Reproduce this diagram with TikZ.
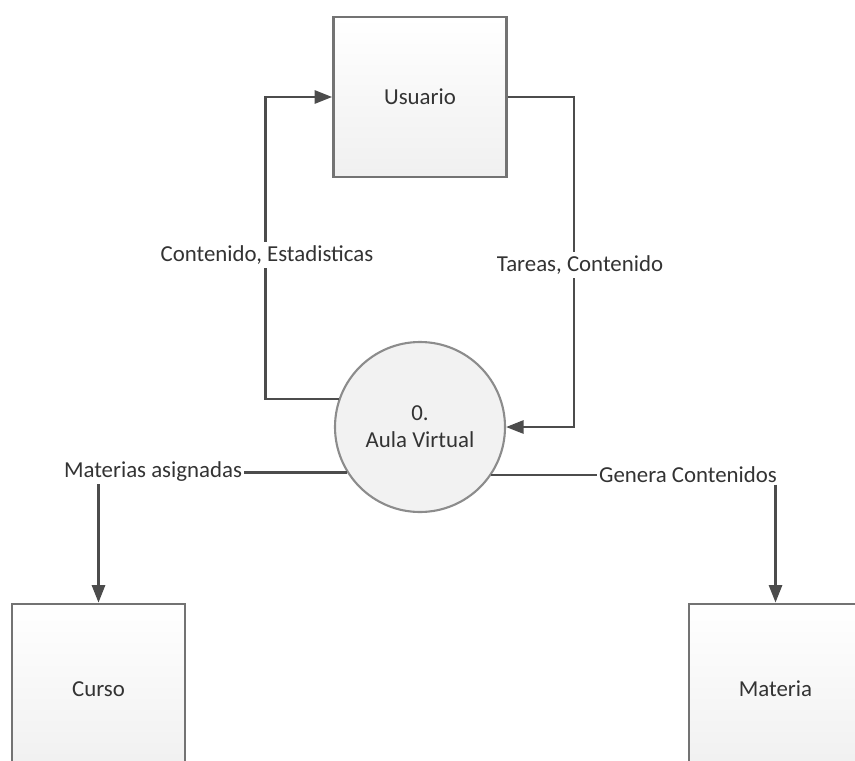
\documentclass[tikz,border=0pt]{standalone}
\usepackage{fontspec}
\setmainfont{Carlito}
\usetikzlibrary{arrows.meta}

\begin{document}
\begin{tikzpicture}[
  >={Triangle[length=10pt,width=7.5pt]},
  every node/.style={text=black!80, font=\fontsize{13}{15.4}\selectfont},
  ent/.style={draw=black!55, line width=1.6pt, top color=white, bottom color=black!6, minimum width=3.46cm, minimum height=3.2cm},
  proc/.style={circle, draw=black!45, line width=1.2pt, fill=black!5, minimum size=3.4cm, align=center},
  flow/.style={draw=black!70, line width=1.4pt},
  lbl/.style={fill=white, inner sep=2pt}
]
\useasboundingbox (0,0) rectangle (17.1,15.2);
\node [ent] (usuario) at (8.4,13.26) {Usuario};
\node [proc] (aula) at (8.4,6.66) {0.\\Aula Virtual};
\node [ent, minimum height=3.4cm] (curso) at (1.97,1.42) {Curso};
\node [ent, minimum height=3.4cm] (materia) at (15.51,1.42) {Materia};
\draw [flow,->] (aula.161) -- ++(-1.46,0) |- (usuario.west);
\draw [flow,->] (usuario.east) -- ++(1.32,0) |- (aula.east);
\node [lbl] (cont) at (5.34,10.1) {Contenido, Estadisticas};
\node [lbl] (tareas) at (11.6,9.9) {Tareas, Contenido};
\node [inner sep=1pt] (asig) at (3.06,5.76) {Materias asignadas};
\node [inner sep=1pt] (genera) at (13.76,5.71) {Genera Contenidos};
\draw [flow] (aula.212) -- (aula.212 -| asig.east);
\draw [flow] (aula.326) -- (aula.326 -| genera.west);
\draw [flow,->] (asig.south -| curso.north) -- (curso.north);
\draw [flow,->] (genera.south -| materia.north) -- (materia.north);
%\node at (8.4,8.6) {Nivel 0};
\end{tikzpicture}
\end{document}
